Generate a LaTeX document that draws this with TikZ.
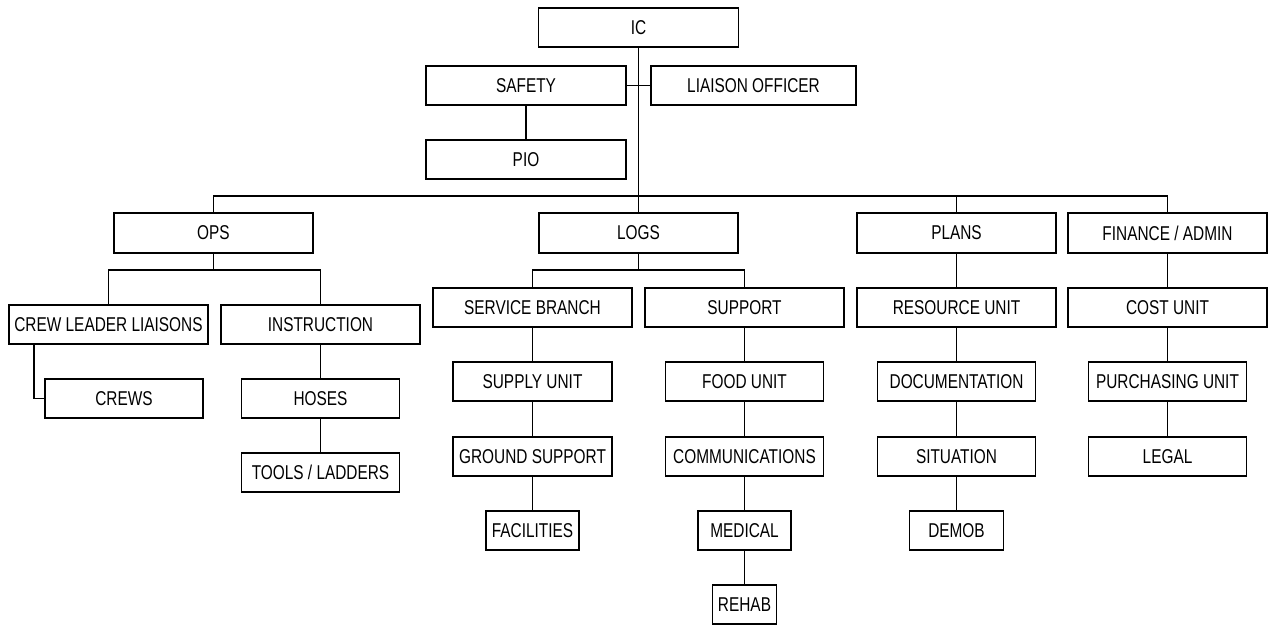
\documentclass[tikz,border=0pt]{standalone}
\usepackage{fontspec}
\setmainfont[FakeStretch=0.77]{Liberation Sans}
\begin{document}
\begin{tikzpicture}[x=1pt,y=-1pt,
  box/.style={draw, line width=1.3pt, rectangle, inner sep=0pt, minimum height=39pt,
    font=\fontsize{20}{22}\selectfont},
  wl/.style={box, minimum width=200pt},
  wm/.style={box, minimum width=158pt},
  ws/.style={box, minimum width=93pt},
  conn/.style={line width=1.2pt}]
\useasboundingbox (0,0) rectangle (1268,625);
% top
\node[wl] (ic) at (638.5,27.5) {IC};
\node[wl] (safety) at (526,85.5) {SAFETY};
\node[box, minimum width=205pt] (liaison) at (753.5,85.5) {LIAISON OFFICER};
\node[wl] (pio) at (526,159.5) {PIO};
% sections
\node[box, minimum width=199pt, minimum height=40pt] (ops) at (213.5,233) {OPS};
\node[box, minimum width=199pt, minimum height=40pt] (logs) at (638.5,233) {LOGS};
\node[box, minimum width=199pt, minimum height=40pt] (plans) at (956.5,233) {PLANS};
\node[box, minimum width=199pt, minimum height=40pt] (fin) at (1167.5,233) {FINANCE / ADMIN};
% ops
\node[box, minimum width=199pt] (cll) at (108.5,324.5) {CREW LEADER LIAISONS};
\node[box, minimum width=199pt] (ins) at (320.5,324.5) {INSTRUCTION};
\node[wm] (crews) at (124,398.5) {CREWS};
\node[wm] (hoses) at (320.5,398.5) {HOSES};
\node[wm] (tools) at (320.5,472.5) {TOOLS / LADDERS};
% logs
\node[box, minimum width=199pt] (serv) at (532.5,307.5) {SERVICE BRANCH};
\node[box, minimum width=199pt] (supp) at (744.5,307.5) {SUPPORT};
\node[box, minimum width=159pt] (supply) at (532.5,381.5) {SUPPLY UNIT};
\node[box, minimum width=159pt] (ground) at (532.5,456.5) {GROUND SUPPORT};
\node[ws] (fac) at (532.5,530.5) {FACILITIES};
\node[wm] (food) at (744.5,381.5) {FOOD UNIT};
\node[wm] (comm) at (744.5,456.5) {COMMUNICATIONS};
\node[ws] (med) at (744.5,530.5) {MEDICAL};
\node[box, minimum width=64pt] (rehab) at (744.5,604.5) {REHAB};
% plans
\node[box, minimum width=199pt] (res) at (956.5,307.5) {RESOURCE UNIT};
\node[wm] (doc) at (956.5,381.5) {DOCUMENTATION};
\node[wm] (sit) at (956.5,456.5) {SITUATION};
\node[box, minimum width=94pt] (demob) at (956.5,530.5) {DEMOB};
% finance
\node[box, minimum width=199pt] (cost) at (1167.5,307.5) {COST UNIT};
\node[wm] (purch) at (1167.5,381.5) {PURCHASING UNIT};
\node[wm] (legal) at (1167.5,456.5) {LEGAL};
% connectors
\coordinate (bus) at (638.5,196);
\draw[conn] (ic.south) -- (bus);
\draw[conn] (safety.east) -- (liaison.west);
\draw[conn] (safety) -- (pio);
\draw[conn] (ops.north) |- (bus) -| (fin.north);
\draw[conn] (bus) -- (logs.north);
\draw[conn] (plans.north) -- (plans.north |- bus);
% ops
\coordinate (opsb) at (213.5,270);
\draw[conn] (ops.south) -- (opsb);
\draw[conn] (cll.north) |- (opsb) -| (ins.north);
\coordinate (cllx) at (34,344);
\draw[conn] (cllx) |- (crews.west);
\draw[conn] (ins) -- (hoses) -- (tools);
% logs
\coordinate (logsb) at (638.5,270);
\draw[conn] (logs.south) -- (logsb);
\draw[conn] (serv.north) |- (logsb) -| (supp.north);
\draw[conn] (serv) -- (supply) -- (ground) -- (fac);
\draw[conn] (supp) -- (food) -- (comm) -- (med) -- (rehab);
% plans
\draw[conn] (plans) -- (res) -- (doc) -- (sit) -- (demob);
% finance
\draw[conn] (fin) -- (cost) -- (purch) -- (legal);
\end{tikzpicture}
\end{document}
